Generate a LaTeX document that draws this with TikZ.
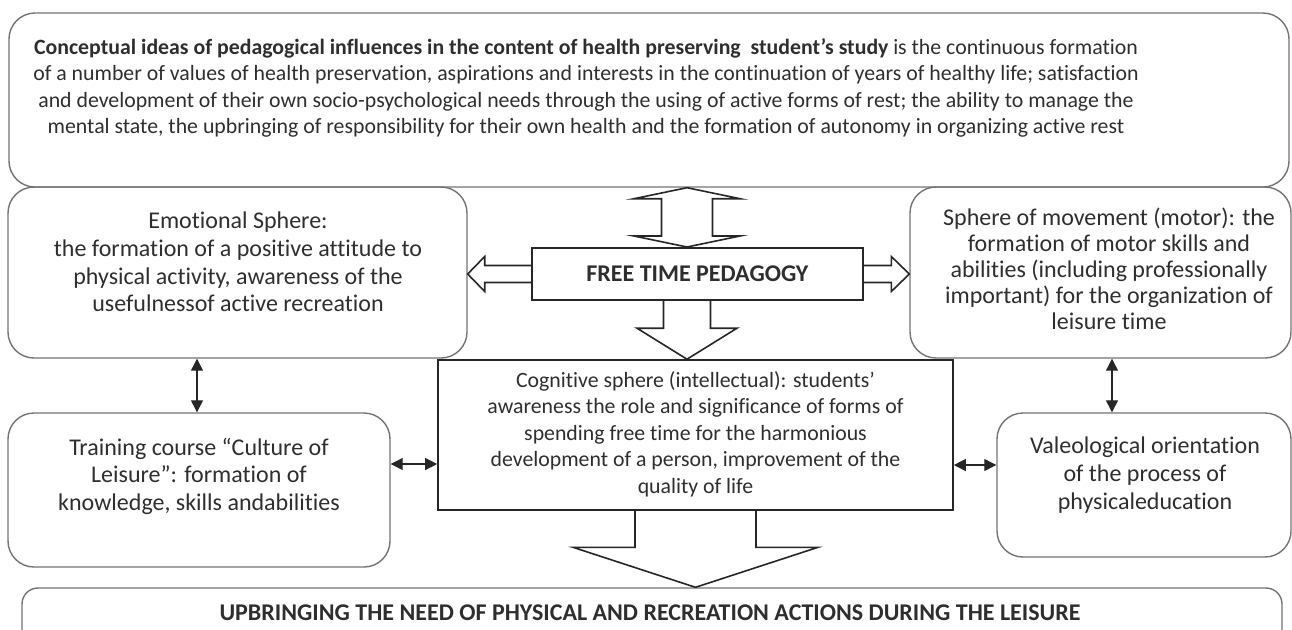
\documentclass[tikz,border=0pt]{standalone}
\usepackage{fontspec}
\setmainfont{Carlito}[Ligatures=NoCommon]
\usetikzlibrary{arrows.meta, calc}

\tikzset{
  roundbox/.style={draw=black!55, line width=0.7pt, rounded corners=13pt},
  plainbox/.style={draw=black!85, line width=0.8pt},
  boxtext/.style={align=center, text=black!82, font=\fontsize{12pt}{13.8pt}\selectfont},
  smalltext/.style={boxtext, font=\fontsize{10.9pt}{13.2pt}\selectfont},
  blockline/.style={draw=black!85, line width=0.8pt, line join=miter},
  twoway/.style={{Triangle[length=6pt,width=6pt]}-{Triangle[length=6pt,width=6pt]}, line width=0.6pt, draw=black!85},
}

% hollow block arrow from #1 to tip #2: half shaft, half head, head length
\newcommand\fatarrow[5]{%
  \coordinate (fa-h) at ($(#2)!#5!(#1)$);
  \draw[blockline] ($(#1)!#3!90:(#2)$) -- ($(fa-h)!#3!90:(#2)$) -- ($(fa-h)!#4!90:(#2)$)
    -- (#2) -- ($(fa-h)!#4!-90:(#2)$) -- ($(fa-h)!#3!-90:(#2)$) -- ($(#1)!#3!-90:(#2)$);
}
% same, with a head at both ends
\newcommand\fatdouble[5]{%
  \coordinate (fd-a) at ($(#1)!#5!(#2)$);
  \coordinate (fd-b) at ($(#2)!#5!(#1)$);
  \draw[blockline] (#1) -- ($(fd-a)!#4!90:(#2)$) -- ($(fd-a)!#3!90:(#2)$) -- ($(fd-b)!#3!90:(#2)$)
    -- ($(fd-b)!#4!90:(#2)$) -- (#2) -- ($(fd-b)!#4!-90:(#2)$) -- ($(fd-b)!#3!-90:(#2)$)
    -- ($(fd-a)!#3!-90:(#2)$) -- ($(fd-a)!#4!-90:(#2)$) -- cycle;
}

\begin{document}
\begin{tikzpicture}[x=0.5pt, y=-0.5pt]
  \useasboundingbox (0,0) rectangle (1292,629);
  \clip (0,0) rectangle (1292,629);

  % boxes
  \node[roundbox, minimum width=640pt, minimum height=87pt] (ideas) at (649,100) {};
  \node[roundbox, minimum width=229.5pt, minimum height=85.5pt] (emotional) at (237.5,272.5) {};
  \node[roundbox, minimum width=190.5pt, minimum height=85.5pt] (motor) at (1100.5,272.5) {};
  \node[plainbox, line width=1pt, minimum width=165.5pt, minimum height=26pt] (ped) at (697.5,274) {};
  \node[plainbox, minimum width=257.5pt, minimum height=75pt] (cognitive) at (695.5,435) {};
  \node[roundbox, minimum width=191pt, minimum height=77pt] (course) at (199,490) {};
  \node[roundbox, minimum width=147pt, minimum height=72pt] (valeo) at (1144,485) {};
  \node[roundbox, rounded corners=8pt, minimum width=630pt, minimum height=40pt] (upbringing) at (652,628) {};

  % texts
  \node[smalltext] (ideas-text) at (586,88) {\textbf{Conceptual ideas of pedagogical influences in the content of health preserving~ student’s study} is the continuous formation\\
    of a number of values of health preservation, aspirations and interests in the continuation of years of healthy life; satisfaction\\
    and development of their own socio-psychological needs through the using of active forms of rest; the ability to manage the\\
    mental state, the upbringing of responsibility for their own health and the formation of autonomy in organizing active rest};
  \node[boxtext] (emotional-text) at (238,262) {Emotional Sphere:\\ the formation of a positive attitude to\\ physical activity, awareness of the\\ usefulnessof active recreation};
  \node[boxtext, font=\fontsize{12pt}{13pt}\selectfont] (motor-text) at (1109,269) {Sphere of movement (motor): the\\ formation of motor skills and\\ abilities (including professionally\\ important) for the organization of\\ leisure time};
  \node[boxtext] (ped-text) at (697.5,274) {\textbf{FREE TIME PEDAGOGY}};
  \node[smalltext] (cognitive-text) at (695.5,434) {Cognitive sphere (intellectual): students’\\ awareness the role and significance of forms of\\ spending free time for the harmonious\\ development of a person, improvement of the\\ quality of life};
  \node[boxtext] (course-text) at (199,476) {Training course “Culture of\\ Leisure”: formation of\\ knowledge, skills andabilities};
  \node[boxtext] (valeo-text) at (1145,475) {Valeological orientation\\ of the process of\\ physicaleducation};
  \node[boxtext] (upbringing-text) at (650,613) {\textbf{UPBRINGING THE NEED OF PHYSICAL AND RECREATION ACTIONS DURING THE LEISURE}};

  % block arrows round the centre
  \coordinate (pin) at ([xshift=-5.25pt]ped.north);
  \coordinate (pout) at ([xshift=-5.25pt]ped.south);
  \fatdouble{pin |- ideas.south}{pin}{12.75pt}{26.5pt}{5.5pt}
  \fatarrow{ped.west}{ped.west -| emotional.east}{4.25pt}{8.75pt}{8.5pt}
  \fatarrow{ped.east}{ped.east -| motor.west}{4.25pt}{8.75pt}{9pt}
  \fatarrow{pout}{pout |- cognitive.north}{11.75pt}{25pt}{15.5pt}
  \fatarrow{cognitive.south}{cognitive.south |- upbringing.north}{30.25pt}{61.25pt}{20pt}

  % thin two-way links
  \foreach \x/\a/\b in {197/emotional/course, 1112/motor/valeo}
    \draw[twoway] (\x,0 |- \a.south) -- (\x,0 |- \b.north);
  \foreach \y/\a/\b in {464/course/cognitive, 465/cognitive/valeo}
    \draw[twoway] (\a.east |- 0,\y) -- (\b.west |- 0,\y);
\end{tikzpicture}
\end{document}
